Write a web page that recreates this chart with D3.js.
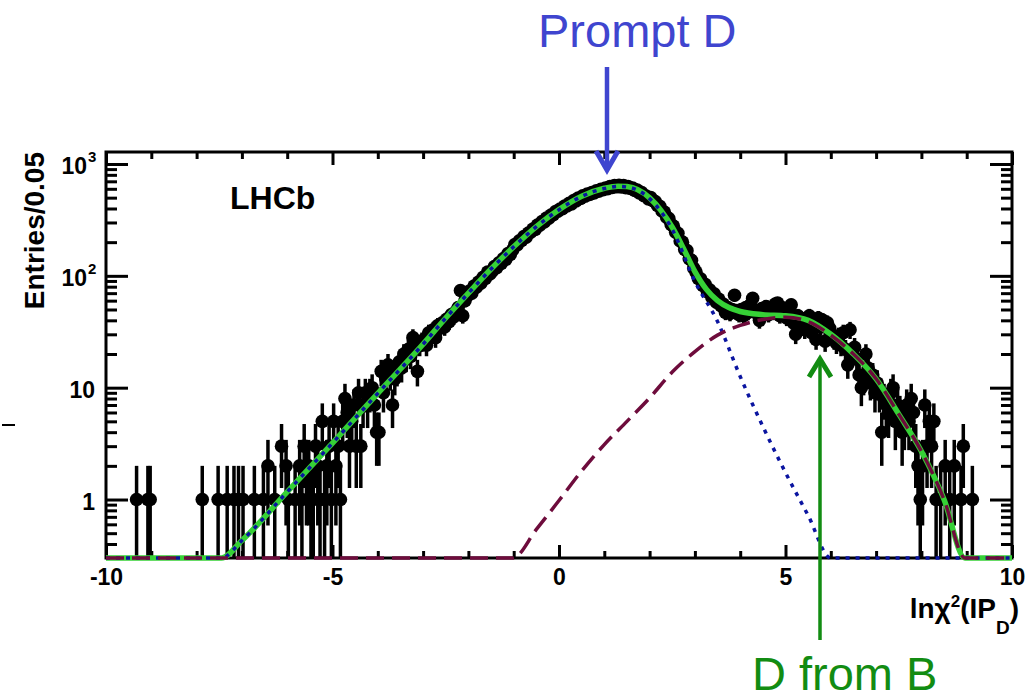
<!DOCTYPE html>
<html>
<head>
<meta charset="utf-8">
<script src="https://cdn.jsdelivr.net/npm/d3@7"></script>
<style>
  body { margin: 0; background: #fff; }
  svg { display: block; font-family: "Liberation Sans", Arial, sans-serif; }
</style>
</head>
<body>
<svg id="svg" width="1027" height="700"></svg>
<script>
var svg;
var x;
var y;

var width = 1027;
var height = 700;
var margin = { top: 152, right: 15, bottom: 142, left: 106 };
var innerW;
var innerH;

// histogram: 400 bins of 0.05 from -10 to 10
var binWidth = 0.05;
var xMin = -10;
var yMin = 0.3;
var yMax = 1280;
var counts = [
  0,0,0,0,0,0,0,0,0,0,0,0,0,1,0,0,0,0,1,1,
  0,0,0,0,0,0,0,0,0,0,0,0,0,0,0,0,0,0,0,0,
  0,0,1,0,0,0,0,0,0,1,0,0,0,1,0,0,1,0,1,0,
  1,0,0,0,0,1,0,0,0,1,0,2,0,0,1,0,0,3,0,2,
  1,0,0,1,0,2,1,3,2,2,1,1,3,2,1,5,1,2,3,1,
  5,2,3,1,5,8,6,3,5,7,3,9,3,7,9,7,9,10,7,4,
  4,14,9,12,16,13,7,12,14,17,15,20,18,22,19,28,22,14,24,26,
  27,24,31,29,33,28,36,34,38,35,41,39,45,43,48,52,74,44,60,66,
  73,70,81,79,88,86,97,95,108,104,110,121,118,131,129,143,140,158,155,170,
  190,189,206,207,224,222,241,245,262,260,285,283,306,303,328,327,350,352,375,378,
  395,398,420,422,445,440,470,468,495,492,520,515,538,535,556,550,575,570,594,590,
  610,600,628,618,640,625,645,622,640,615,628,605,610,580,585,550,555,520,518,488,
  500,470,462,425,418,380,372,335,325,288,278,245,240,205,200,172,168,142,138,117,
  108,95,94,82,84,72,75,64,69,58,62,54,56,47,52,46,50,67,49,45,
  50,44,52,47,55,63,49,46,40,51,48,53,45,50,47,56,57,44,52,49,
  42,47,55,38,30,44,36,41,33,39,44,31,37,27,42,35,40,26,38,34,
  30,27,25,29,24,31,22,16,33,20,23,18,13,10,12,20,15,11,13,9,
  11,9,4,8,7,6,9,10,5,7,6,4,5,7,5,8,6,3,2,1,
  2,7,3,5,3,5,1,0,1,0,2,0,1,0,2,0,0,1,3,0,
  0,0,1,0,0,0,0,0,0,0,0,0,0,0,0,0,0,0,0,0
];

// fit components (value 0.3 = sits on the bottom of the frame)
var totalX = [-10, -7.45, -7, -6, -5, -4, -3, -2.5, -2, -1.5, -1, -0.5, 0, 0.5, 1, 1.3, 1.5, 2, 2.25, 2.5, 2.75, 3, 3.25, 3.5, 3.75, 4, 4.5, 5, 5.5, 6, 6.5, 7, 7.5, 8, 8.5, 8.96, 10];
var totalV = [0.3, 0.3, 0.43, 1.17, 3.2, 8.9, 24.5, 42, 70, 115, 182, 276, 391, 515, 607, 634, 628, 498, 385, 272, 175, 109, 76, 60, 52, 48, 45, 44, 40, 30, 20, 12, 5.8, 2.7, 1.0, 0.3, 0.3];

var promptX = [-10, -7.45, -7, -6, -5, -4, -3, -2.5, -2, -1.5, -1, -0.5, 0, 0.5, 1, 1.3, 1.5, 2, 2.5, 3, 3.5, 4, 4.5, 5, 5.5, 6.0, 10];
var promptV = [0.3, 0.3, 0.43, 1.17, 3.2, 8.9, 24.5, 42, 70, 115, 182, 275, 390, 513, 603, 630, 623, 490, 260, 89, 39, 12.6, 4.5, 1.74, 0.72, 0.3, 0.3];

var fromBX = [-10, -1.02, -0.5, 0, 0.5, 1, 1.5, 2, 2.5, 3, 3.5, 4, 4.5, 5, 5.5, 6, 6.5, 7, 7.5, 8, 8.5, 8.96, 10];
var fromBV = [0.3, 0.3, 0.54, 0.98, 1.8, 3.1, 5.0, 8.1, 13.8, 21, 29.5, 36, 40.7, 42.7, 39, 29.5, 20, 12, 5.8, 2.7, 1.0, 0.3, 0.3];

var xMajorTicks = [-10, -5, 0, 5, 10];
var xTickLabels = ['-10', '-5', '0', '5', '10'];
var yMajorTicks = [1, 10, 100, 1000];
var yTickBase = ['1', '10', '10', '10'];
var yTickExp = ['', '', '2', '3'];

document.addEventListener('DOMContentLoaded', function() {
    svg = d3.select('#svg');
    innerW = width - margin.left - margin.right;
    innerH = height - margin.top - margin.bottom;

    x = d3.scaleLinear().domain([-10, 10]).range([margin.left, margin.left + innerW]);
    y = d3.scaleLog().domain([yMin, yMax]).range([margin.top + innerH, margin.top]);

    drawFrame();
    drawData();
    drawCurves();
    drawTexts();
});

function styleAxis(g) {
    g.select('.domain').remove();
    g.selectAll('.tick line').attr('stroke', '#000').attr('stroke-width', 3);
}

function drawFrame() {
    var bottom = margin.top + innerH;
    var right = margin.left + innerW;
    var xMinor = d3.range(-9, 10).filter(function(d) { return d % 5 !== 0; });
    var yMinor = y.ticks().filter(function(d) { return yMajorTicks.indexOf(d) < 0; });

    // bottom axis
    var gb = svg.append('g').attr('transform', 'translate(0,' + bottom + ')')
        .call(d3.axisBottom(x).tickValues(xMajorTicks).tickSize(-13).tickPadding(11)
              .tickFormat(function(d, i) { return xTickLabels[i]; }));
    styleAxis(gb);
    gb.selectAll('text').attr('font-size', 23).attr('font-weight', 'bold').attr('fill', '#000')
      .attr('font-family', '"Liberation Sans", Arial, sans-serif');
    styleAxis(svg.append('g').attr('transform', 'translate(0,' + bottom + ')')
        .call(d3.axisBottom(x).tickValues(xMinor).tickSize(-7).tickFormat('')));

    // top axis
    styleAxis(svg.append('g').attr('transform', 'translate(0,' + margin.top + ')')
        .call(d3.axisTop(x).tickValues(xMajorTicks).tickSize(-13).tickFormat('')));
    styleAxis(svg.append('g').attr('transform', 'translate(0,' + margin.top + ')')
        .call(d3.axisTop(x).tickValues(xMinor).tickSize(-7).tickFormat('')));

    // left / right axes
    styleAxis(svg.append('g').attr('transform', 'translate(' + margin.left + ',0)')
        .call(d3.axisLeft(y).tickValues(yMajorTicks).tickSize(-22).tickFormat('')));
    styleAxis(svg.append('g').attr('transform', 'translate(' + margin.left + ',0)')
        .call(d3.axisLeft(y).tickValues(yMinor).tickSize(-11).tickFormat('')));
    styleAxis(svg.append('g').attr('transform', 'translate(' + right + ',0)')
        .call(d3.axisRight(y).tickValues(yMajorTicks).tickSize(-22).tickFormat('')));
    styleAxis(svg.append('g').attr('transform', 'translate(' + right + ',0)')
        .call(d3.axisRight(y).tickValues(yMinor).tickSize(-11).tickFormat('')));

    svg.append('rect')
        .attr('x', margin.left).attr('y', margin.top)
        .attr('width', innerW).attr('height', innerH)
        .attr('fill', 'none').attr('stroke', '#000').attr('stroke-width', 3);

    // y tick labels with exponents
    svg.append('g').selectAll('text')
        .data(yMajorTicks)
        .enter().append('text')
        .attr('x', function(d, i) { return yTickExp[i] ? 87 : 95; })
        .attr('y', function(d) { return y(d) + 10; })
        .attr('text-anchor', 'end')
        .attr('font-size', 23).attr('font-weight', 'bold')
        .text(function(d, i) { return yTickBase[i]; });
    svg.append('g').selectAll('text')
        .data(yMajorTicks.filter(function(d, i) { return yTickExp[i]; }))
        .enter().append('text')
        .attr('x', 88)
        .attr('y', function(d) { return y(d) - 2; })
        .attr('font-size', 15).attr('font-weight', 'bold')
        .text(function(d) { return yTickExp[yMajorTicks.indexOf(d)]; });

    // stray mark at the left edge
    svg.append('line').attr('x1', 2).attr('x2', 15).attr('y1', 425).attr('y2', 425)
        .attr('stroke', '#000').attr('stroke-width', 2);
}

function drawData() {
    var bottom = margin.top + innerH;
    var pts = counts.map(function(c, i) {
        return { x: xMin + binWidth * (i + 0.5), n: c };
    }).filter(function(d) { return d.n > 0; });

    var g = svg.append('g');
    g.selectAll('line')
        .data(pts)
        .enter().append('line')
        .attr('x1', function(d) { return x(d.x); })
        .attr('x2', function(d) { return x(d.x); })
        .attr('y1', function(d) {
            var lo = d.n - Math.sqrt(d.n);
            return lo > yMin ? y(lo) : bottom;
        })
        .attr('y2', function(d) { return Math.max(margin.top, y(d.n + Math.sqrt(d.n))); })
        .attr('stroke', '#000')
        .attr('stroke-width', 3.5);

    g.selectAll('circle')
        .data(pts)
        .enter().append('circle')
        .attr('cx', function(d) { return x(d.x); })
        .attr('cy', function(d) { return y(d.n); })
        .attr('r', 6.8)
        .attr('fill', '#000');
}

function drawCurves() {
    var line = d3.line()
        .x(function(d) { return x(d[0]); })
        .y(function(d) { return y(d[1]); })
        .curve(d3.curveMonotoneX);

    var g = svg.append('g');
    g.append('path')
        .attr('d', line(d3.zip(totalX, totalV)))
        .attr('fill', 'none').attr('stroke', '#36d136').attr('stroke-width', 5.5);
    g.append('path')
        .attr('d', line(d3.zip(promptX, promptV)))
        .attr('fill', 'none').attr('stroke', '#0a14a0').attr('stroke-width', 3.5)
        .attr('stroke-dasharray', '4,6');
    g.append('path')
        .attr('d', line(d3.zip(fromBX, fromBV)))
        .attr('fill', 'none').attr('stroke', '#6e0c3c').attr('stroke-width', 3.5)
        .attr('stroke-dasharray', '18,8');
}

function drawTexts() {
    svg.append('text')
        .attr('x', 230).attr('y', 209)
        .attr('font-size', 32).attr('font-weight', 'bold')
        .text('LHCb');

    svg.append('text')
        .attr('transform', 'translate(44,152) rotate(-90)')
        .attr('text-anchor', 'end')
        .attr('font-size', 28).attr('font-weight', 'bold')
        .text('Entries/0.05');

    var t = svg.append('text')
        .attr('x', 1019).attr('y', 618)
        .attr('text-anchor', 'end')
        .attr('font-size', 28).attr('font-weight', 'bold');
    t.append('tspan').text('ln\u03c7');
    t.append('tspan').attr('font-size', 17).attr('dy', -11).text('2');
    t.append('tspan').attr('dy', 11).text('(IP');
    t.append('tspan').attr('font-size', 19).attr('dy', 16).text('D');
    t.append('tspan').attr('dy', -16).text(')');

    // Prompt D annotation
    var blue = '#3f45cf';
    svg.append('text')
        .attr('x', 538).attr('y', 47)
        .attr('font-size', 47).attr('fill', blue)
        .text('Prompt D');
    svg.append('line').attr('x1', 607).attr('x2', 607).attr('y1', 67).attr('y2', 168)
        .attr('stroke', blue).attr('stroke-width', 4.5);
    svg.append('polyline').attr('points', '596,151 607,170 618,151')
        .attr('fill', 'none').attr('stroke', blue).attr('stroke-width', 5);

    // D from B annotation
    var green = '#128c12';
    svg.append('text')
        .attr('x', 752).attr('y', 690)
        .attr('font-size', 47).attr('fill', green)
        .text('D from B');
    svg.append('line').attr('x1', 820).attr('x2', 820).attr('y1', 640).attr('y2', 360)
        .attr('stroke', green).attr('stroke-width', 3.5);
    svg.append('polyline').attr('points', '809,377 820,359 831,377')
        .attr('fill', 'none').attr('stroke', green).attr('stroke-width', 5);
}
</script>
</body>
</html>
